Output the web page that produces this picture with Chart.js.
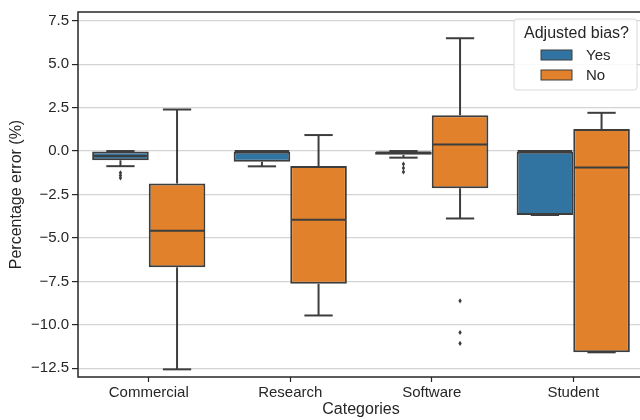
<!DOCTYPE html>
<html>
<head>
<meta charset="utf-8">
<script src="https://cdn.jsdelivr.net/npm/chart.js@4/dist/chart.umd.min.js"></script>
<style>
  html, body { margin: 0; padding: 0; background: #ffffff; overflow: hidden; }
  #wrap { width: 650px; height: 420px; }
</style>
</head>
<body>
<div id="wrap"><canvas id="c" width="650" height="420"></canvas></div>
<script>
// Percentage error per category, split by whether the bias was adjusted.
const categories = ['Commercial', 'Research', 'Software', 'Student'];
const groupNames = ['Yes', 'No'];

// Adjusted bias: Yes
const yesMin      = [-0.87, -0.88, -0.38, -3.68];
const yesQ1       = [-0.53, -0.61, -0.22, -3.68];
const yesMedian   = [-0.29,  0.00, -0.08,  0.00];
const yesQ3       = [-0.03,  0.00,  0.00,  0.00];
const yesMax      = [ 0.00,  0.00,  0.00,  0.00];
const yesOutliers = [[-1.25, -1.4, -1.55], [], [-0.75, -0.98, -1.2], []];

// Adjusted bias: No
const noMin      = [-12.56, -9.46, -3.88, -11.58];
const noQ1       = [ -6.69, -7.64, -2.14, -11.58];
const noMedian   = [ -4.58, -3.95,  0.38,  -0.95];
const noQ3       = [ -1.87, -0.86,  2.06,   1.27];
const noMax      = [  2.39,  0.92,  6.49,   2.20];
const noOutliers = [[], [], [-8.62, -10.44, -11.07], []];

const yTicks = [-12.5, -10, -7.5, -5, -2.5, 0, 2.5, 5, 7.5];
const yRange = [-13, 8];

const COLORS = ['#3274a1', '#e1812c'];
const EDGE = '#3d3d3d';
const INK = '#262626';
const FONT = "'Liberation Sans', Arial, sans-serif";

const stats = [
  { min: yesMin, q1: yesQ1, med: yesMedian, q3: yesQ3, max: yesMax, out: yesOutliers },
  { min: noMin,  q1: noQ1,  med: noMedian,  q3: noQ3,  max: noMax,  out: noOutliers }
];

// Whiskers, caps, medians and fliers drawn on top of the floating-bar boxes.
const boxParts = {
  id: 'boxParts',
  afterDatasetsDraw(chart) {
    const ctx = chart.ctx;
    const y = chart.scales.y;
    ctx.save();
    ctx.strokeStyle = EDGE;
    ctx.fillStyle = EDGE;
    ctx.lineWidth = 2;
    ctx.lineCap = 'butt';
    stats.forEach((s, di) => {
      const meta = chart.getDatasetMeta(di);
      meta.data.forEach((bar, i) => {
        const cx = bar.x;
        const hw = bar.width / 2;
        const cap = bar.width / 4;
        const line = (x1, y1, x2, y2) => {
          ctx.beginPath(); ctx.moveTo(x1, y1); ctx.lineTo(x2, y2); ctx.stroke();
        };
        // whiskers
        if (s.max[i] > s.q3[i]) line(cx, y.getPixelForValue(s.q3[i]), cx, y.getPixelForValue(s.max[i]));
        if (s.min[i] < s.q1[i]) line(cx, y.getPixelForValue(s.q1[i]), cx, y.getPixelForValue(s.min[i]));
        // caps
        line(cx - cap, y.getPixelForValue(s.max[i]), cx + cap, y.getPixelForValue(s.max[i]));
        line(cx - cap, y.getPixelForValue(s.min[i]), cx + cap, y.getPixelForValue(s.min[i]));
        // median
        const my = y.getPixelForValue(s.med[i]);
        line(cx - hw + 1, my, cx + hw - 1, my);
        // fliers as thin diamonds
        s.out[i].forEach(v => {
          const py = y.getPixelForValue(v);
          ctx.beginPath();
          ctx.moveTo(cx, py - 2.6);
          ctx.lineTo(cx + 1.7, py);
          ctx.lineTo(cx, py + 2.6);
          ctx.lineTo(cx - 1.7, py);
          ctx.closePath();
          ctx.fill();
        });
      });
    });
    ctx.restore();
  }
};

// Axes frame (all four spines) and the hue legend in the top-right corner.
const frameAndLegend = {
  id: 'frameAndLegend',
  afterDraw(chart) {
    const ctx = chart.ctx;
    const a = chart.chartArea;
    ctx.save();
    ctx.strokeStyle = INK;
    ctx.lineWidth = 1.5;
    ctx.strokeRect(a.left, a.top, a.right - a.left, a.bottom - a.top);

    // legend box
    const bx = a.right - 130, by = a.top + 7, bw = 123, bh = 71, r = 3;
    ctx.beginPath();
    ctx.moveTo(bx + r, by);
    ctx.arcTo(bx + bw, by, bx + bw, by + bh, r);
    ctx.arcTo(bx + bw, by + bh, bx, by + bh, r);
    ctx.arcTo(bx, by + bh, bx, by, r);
    ctx.arcTo(bx, by, bx + bw, by, r);
    ctx.closePath();
    ctx.fillStyle = 'rgba(255,255,255,0.85)';
    ctx.fill();
    ctx.strokeStyle = '#d9d9d9';
    ctx.lineWidth = 1;
    ctx.stroke();

    ctx.fillStyle = INK;
    ctx.font = '16px ' + FONT;
    ctx.textAlign = 'center';
    ctx.textBaseline = 'middle';
    ctx.fillText('Adjusted bias?', bx + bw / 2 + 1, by + 15);

    groupNames.forEach((name, k) => {
      const py = by + 31 + k * 20;
      ctx.fillStyle = COLORS[k];
      ctx.fillRect(bx + 27, py, 31, 10);
      ctx.strokeStyle = EDGE;
      ctx.lineWidth = 1;
      ctx.strokeRect(bx + 27, py, 31, 10);
      ctx.fillStyle = INK;
      ctx.textAlign = 'left';
      ctx.font = '15px ' + FONT;
      ctx.fillText(name, bx + 72, py + 5.5);
    });
    ctx.restore();
  }
};

const fmt = v => v.toFixed(1).replace('-', '\u2212');

new Chart(document.getElementById('c'), {
  type: 'bar',
  data: {
    labels: categories,
    datasets: stats.map((s, k) => ({
      label: groupNames[k],
      data: s.q1.map((q1, i) => [q1, s.q3[i]]),
      backgroundColor: COLORS[k],
      borderColor: EDGE,
      borderWidth: 2,
      borderSkipped: false,
      categoryPercentage: 0.8,
      barPercentage: 1.0
    }))
  },
  options: {
    responsive: false,
    animation: false,
    devicePixelRatio: 1,
    layout: { padding: { top: 10, right: 6, left: 0, bottom: 0 } },
    plugins: { legend: { display: false }, tooltip: { enabled: false } },
    scales: {
      x: {
        grid: { offset: false, drawOnChartArea: false, drawTicks: true, tickLength: 5, tickColor: INK, tickWidth: 1.2 },
        border: { display: false },
        ticks: { color: INK, font: { family: FONT, size: 15 }, padding: 2, maxRotation: 0 },
        title: { display: true, text: 'Categories', color: INK, font: { family: FONT, size: 16 }, padding: { top: 0, bottom: 1 } },
        afterFit(scale) { scale.height = 43; }
      },
      y: {
        min: yRange[0],
        max: yRange[1],
        afterBuildTicks(scale) { scale.ticks = yTicks.map(v => ({ value: v })); },
        grid: { color: '#d4d4d4', lineWidth: 1.2, tickColor: INK, tickLength: 6, tickWidth: 1.2 },
        border: { display: false },
        ticks: { color: INK, font: { family: FONT, size: 15 }, padding: 3, callback: v => fmt(v) },
        title: { display: true, text: 'Percentage error (%)', color: INK, font: { family: FONT, size: 16 }, padding: { top: 7, bottom: 0 } },
        afterFit(scale) { scale.width = 78; }
      }
    }
  },
  plugins: [boxParts, frameAndLegend]
});
</script>
</body>
</html>
